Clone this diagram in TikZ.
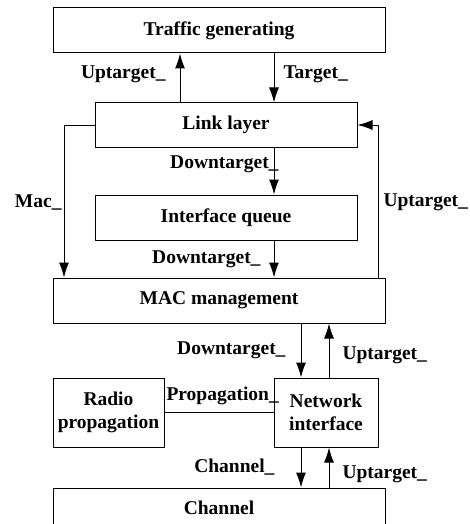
\documentclass[tikz,border=0pt]{standalone}
\usepackage{fontspec}
\setmainfont{Liberation Serif}
\usetikzlibrary{arrows.meta}
\tikzset{block/.style={draw,line width=1pt,inner sep=0pt,align=center,font=\bfseries\fontsize{19.5}{23}\selectfont}}

\begin{document}
\begin{tikzpicture}[x=1pt,y=-1pt,line width=1pt,
    lbl/.style={inner sep=0pt,font=\bfseries\fontsize{19.5}{23}\selectfont},
    arr/.style={-{Latex[length=15pt,width=10pt]}}]
  \clip (0,0) rectangle (470,524);
  \node [block,minimum width=332pt,minimum height=45pt] (traffic) at (219,30.5) {Traffic generating};
  \node [block,minimum width=262pt,minimum height=44pt] (link) at (226,125) {Link layer};
  \node [block,minimum width=262pt,minimum height=45pt] (queue) at (226,217.5) {Interface queue};
  \node [block,minimum width=332pt,minimum height=45pt] (mac) at (219,300.5) {MAC management};
  \node [block,minimum width=111pt,minimum height=69pt] (radio) at (108.5,412.5) {Radio\\propagation};
  \node [block,minimum width=104pt,minimum height=69pt] (netif) at (326,412.5) {Network\\interface};
  \node [block,minimum width=332pt,minimum height=40pt] (channel) at (219,508) {Channel};
  % columns of the connectors
  \coordinate (xa) at (180,0);
  \coordinate (xb) at (274,0);
  \coordinate (xc) at (301,0);
  \coordinate (xd) at (64,0);
  \coordinate (xe) at (378,0);
  \coordinate (xf) at (329,0);
  \draw [arr] (xa |- link.north) -- (xa |- traffic.south);
  \draw [arr] (xb |- traffic.south) -- (xb |- link.north);
  \draw [arr] (xb |- link.south) -- (xb |- queue.north);
  \draw [arr] (xb |- queue.south) -- (xb |- mac.north);
  \draw [arr] (link.west) -| (xd |- mac.north);
  \draw [arr] (xe |- mac.north) |- (link.east);
  \draw [arr] (xc |- mac.south) -- (xc |- netif.north);
  \draw [arr] (xf |- netif.north) -- (xf |- mac.south);
  \draw [arr] (xc |- netif.south) -- (xc |- channel.north);
  \draw [arr] (xf |- channel.north) -- (xf |- netif.south);
  \draw (radio) -- (netif);
  \node [lbl,anchor=east] (l1) at (166,74.5) {Uptarget\_};
  \node [lbl,anchor=west] (l2) at (283,74.5) {Target\_};
  \node [lbl,anchor=east] (l3) at (279,164.5) {Downtarget\_};
  \node [lbl,anchor=east] (l4) at (62,202.5) {Mac\_};
  \node [lbl,anchor=west] (l5) at (383,202.5) {Uptarget\_};
  \node [lbl,anchor=east] (l6) at (261,259) {Downtarget\_};
  \node [lbl,anchor=east] (l7) at (286,350) {Downtarget\_};
  \node [lbl,anchor=west] (l8) at (342,355) {Uptarget\_};
  \node [lbl,anchor=west] (l9) at (166,396) {Propagation\_};
  \node [lbl,anchor=east] (l10) at (275,467) {Channel\_};
  \node [lbl,anchor=west] (l11) at (342,474) {Uptarget\_};
\end{tikzpicture}
\end{document}
